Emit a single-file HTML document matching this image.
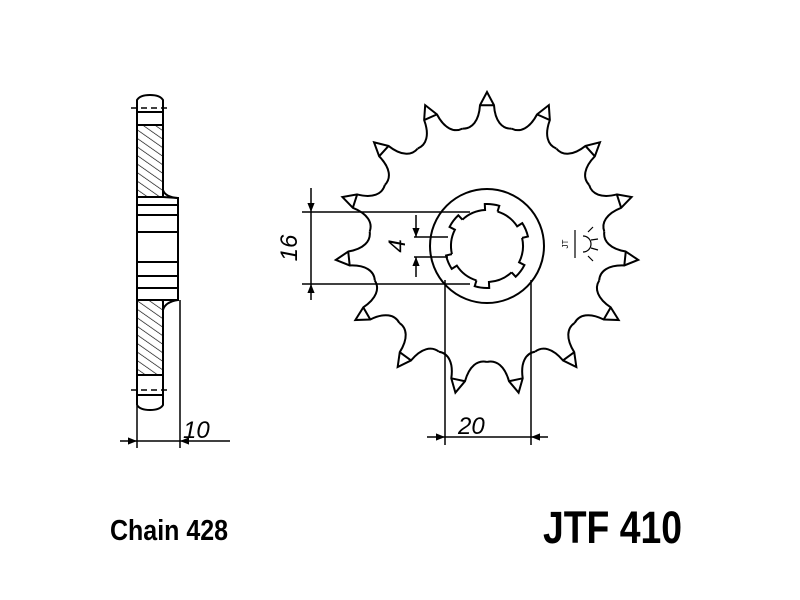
<!DOCTYPE html>
<html><head><style>body{margin:0;background:#fff}svg{display:block}</style></head>
<body>
<svg width="800" height="600" viewBox="0 0 800 600" xmlns="http://www.w3.org/2000/svg">
<defs>
<marker id="a" viewBox="0 0 10 10" refX="10" refY="5" markerWidth="9" markerHeight="9" orient="auto-start-reverse" markerUnits="userSpaceOnUse"><path d="M0,1 L10,5 L0,9 Z" fill="#000"/></marker>
<pattern id="h" patternUnits="userSpaceOnUse" width="7" height="7" patternTransform="rotate(-55)"><line x1="0" y1="0" x2="0" y2="7" stroke="#000" stroke-width="1.3"/></pattern>
<path id="t" d="M462.5,128.6 C472,129 479,121 480,105.2 L487,92 L494,105.2 C495,121 502,129 511.5,128.6 M480,105.2 L494,105.2"/>
<path id="sp" d="M487,210 A36,36 0 0 1 510.1,218.4 L514,213.8 A42,42 0 0 1 523.4,225 L518.2,228"/>
</defs>
<g fill="none" stroke="#000" stroke-width="2">
<path d="M137,100 Q140,95 150,95 Q160,95 163,100 L163,112 L137,112 Z"/>
<line x1="131" y1="108" x2="167" y2="108" stroke-dasharray="6,4" stroke-width="1.5"/>
<rect x="137" y="125" width="26" height="72" fill="url(#h)"/>
<path d="M137,112 L137,405 M163,112 L163,190 Q165,197 178,198 L178,300 Q165,302 163,310 L163,395"/>
<path d="M163,197 L178,198 L178,300 L163,300" />
<path d="M137,205 H177 M137,215 H177 M137,232 H177 M137,262 H177 M137,276 H177 M137,288 H177"/>
<rect x="137" y="300" width="26" height="75" fill="url(#h)"/>
<path d="M137,395 L163,395 L163,405 Q160,410 150,410 Q140,410 137,405"/>
<line x1="131" y1="390" x2="167" y2="390" stroke-dasharray="6,4" stroke-width="1.5"/>
<line x1="137" y1="112" x2="137" y2="448" stroke-width="1.5"/>
<line x1="180" y1="300" x2="180" y2="448" stroke-width="1.5"/>
<line x1="120" y1="441" x2="137" y2="441" stroke-width="1.5" marker-end="url(#a)"/>
<line x1="137" y1="441" x2="180" y2="441" stroke-width="1.5"/>
<line x1="230" y1="441" x2="180" y2="441" stroke-width="1.5" marker-end="url(#a)"/>
<use href="#t"/>
<use href="#t" transform="rotate(24 487 244)"/>
<use href="#t" transform="rotate(48 487 244)"/>
<use href="#t" transform="rotate(72 487 244)"/>
<use href="#t" transform="rotate(96 487 244)"/>
<use href="#t" transform="rotate(120 487 244)"/>
<use href="#t" transform="rotate(144 487 244)"/>
<use href="#t" transform="rotate(168 487 244)"/>
<use href="#t" transform="rotate(192 487 244)"/>
<use href="#t" transform="rotate(216 487 244)"/>
<use href="#t" transform="rotate(240 487 244)"/>
<use href="#t" transform="rotate(264 487 244)"/>
<use href="#t" transform="rotate(288 487 244)"/>
<use href="#t" transform="rotate(312 487 244)"/>
<use href="#t" transform="rotate(336 487 244)"/>
<circle cx="487" cy="246" r="57"/>
<use href="#sp" transform="rotate(17 487 246)"/>
<use href="#sp" transform="rotate(77 487 246)"/>
<use href="#sp" transform="rotate(137 487 246)"/>
<use href="#sp" transform="rotate(197 487 246)"/>
<use href="#sp" transform="rotate(257 487 246)"/>
<use href="#sp" transform="rotate(317 487 246)"/>
<line x1="302" y1="212" x2="470" y2="212" stroke-width="1.5"/>
<line x1="302" y1="284" x2="470" y2="284" stroke-width="1.5"/>
<line x1="311" y1="188" x2="311" y2="212" stroke-width="1.5" marker-end="url(#a)"/>
<line x1="311" y1="212" x2="311" y2="284" stroke-width="1.5"/>
<line x1="311" y1="300" x2="311" y2="284" stroke-width="1.5" marker-end="url(#a)"/>
<line x1="414" y1="237" x2="448" y2="237" stroke-width="1.5"/>
<line x1="414" y1="257" x2="448" y2="257" stroke-width="1.5"/>
<line x1="416" y1="215" x2="416" y2="237" stroke-width="1.5" marker-end="url(#a)"/>
<line x1="416" y1="277" x2="416" y2="257" stroke-width="1.5" marker-end="url(#a)"/>
<line x1="445" y1="280" x2="445" y2="445" stroke-width="1.5"/>
<line x1="531" y1="280" x2="531" y2="445" stroke-width="1.5"/>
<line x1="427" y1="437" x2="445" y2="437" stroke-width="1.5" marker-end="url(#a)"/>
<line x1="445" y1="437" x2="531" y2="437" stroke-width="1.5"/>
<line x1="548" y1="437" x2="531" y2="437" stroke-width="1.5" marker-end="url(#a)"/>
<path d="M575,230 L575,258 M583,236 A8,8 0 0 1 583,252" stroke-width="1.2"/>
<path d="M588,232 L593,227 M591,240 L598,239 M591,248 L598,250 M588,256 L593,261" stroke-width="1.2"/>
</g>
<g font-family="'Liberation Sans',sans-serif" fill="#000">
<text x="183" y="438" font-size="24" font-style="italic">10</text>
<text x="458" y="434" font-size="24" font-style="italic">20</text>
<text transform="translate(297,248) rotate(-90)" font-size="24" font-style="italic" text-anchor="middle">16</text>
<text transform="translate(405,246) rotate(-90)" font-size="24" font-style="italic" text-anchor="middle">4</text>
<text transform="translate(568,244) rotate(-90)" font-size="8" text-anchor="middle">JT</text>
<text x="110" y="540" font-size="29" font-weight="bold" textLength="118" lengthAdjust="spacingAndGlyphs">Chain 428</text>
<text x="543" y="543" font-size="45" font-weight="bold" textLength="139" lengthAdjust="spacingAndGlyphs">JTF 410</text>
</g>
</svg>
</body></html>
